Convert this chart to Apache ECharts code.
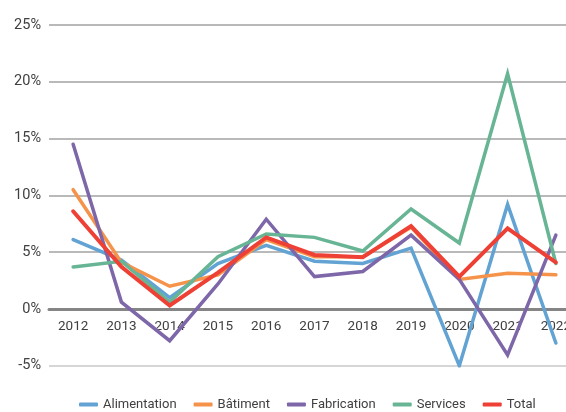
<!DOCTYPE html>
<html>
<head>
<meta charset="utf-8">
<script src="https://cdn.jsdelivr.net/npm/echarts@6/dist/echarts.min.js"></script>
<style>
html,body{margin:0;padding:0;background:#fff;}
#chart{width:566px;height:412px;}
</style>
</head>
<body>
<div id="chart"></div>
<script>
const years = ['2012','2013','2014','2015','2016','2017','2018','2019','2020','2021','2022'];
const alimentation = [6.1, 4.3, 1.0, 4.0, 5.6, 4.2, 4.0, 5.35, -5.0, 9.2, -3.0];
const batiment = [10.5, 4.1, 2.0, 3.0, 6.1, 4.6, 4.6, 7.2, 2.6, 3.15, 3.0];
const fabrication = [14.5, 0.6, -2.8, 2.2, 7.9, 2.85, 3.3, 6.5, 2.6, -4.05, 6.5];
const services = [3.7, 4.2, 0.6, 4.6, 6.6, 6.3, 5.1, 8.8, 5.8, 20.7, 4.0];
const total = [8.6, 3.7, 0.3, 3.2, 6.3, 4.75, 4.55, 7.3, 2.85, 7.1, 4.1];
const yTicks = [-5, 0, 5, 10, 15, 20, 25];

const seriesDefs = [
  {name:'Alimentation', data: alimentation, color:'#62a3d3', w:3.5},
  {name:'Bâtiment', data: batiment, color:'#f5934a', w:3.5},
  {name:'Fabrication', data: fabrication, color:'#7e67a8', w:3.5},
  {name:'Services', data: services, color:'#68b595', w:3.5},
  {name:'Total', data: total, color:'#ee4035', w:4}
];

const gridTop = 25, gridBottom = 46.3, H = 412;
const plotH = H - gridTop - gridBottom;
const yMin = yTicks[0], yMax = yTicks[yTicks.length-1];
const zeroOffset = -plotH * (0 - yMin) / (yMax - yMin);

const chart = echarts.init(document.getElementById('chart'), null, {renderer:'canvas'});
chart.setOption({
  animation:false,
  backgroundColor:'#ffffff',
  textStyle:{fontFamily:'Roboto'},
  grid:{left:49, right:-14, top:gridTop, bottom:gridBottom, containLabel:false, outerBoundsMode:'none'},
  legend:{
    left:74, top:393,
    itemWidth:19, itemHeight:4, itemGap:17,
    icon:'roundRect',
    textStyle:{color:'#404040', fontSize:13, fontFamily:'Roboto'},
    data: seriesDefs.map(s=>s.name)
  },
  xAxis:{
    type:'category',
    data: years,
    boundaryGap:true,
    position:'bottom',
    offset: zeroOffset,
    axisLine:{onZero:false, lineStyle:{color:'#858585', width:3}},
    axisTick:{show:false},
    axisLabel:{color:'#404040', fontSize:13.5, margin:11, fontFamily:'Roboto', hideOverlap:false},
    splitLine:{show:false}
  },
  yAxis:{
    type:'value',
    min: yMin, max: yMax, interval:5,
    axisLine:{show:false},
    axisTick:{show:false},
    axisLabel:{color:'#404040', fontSize:14.5, margin:8, fontFamily:'Roboto', formatter:v=>v+'%'},
    splitLine:{show:true, lineStyle:{color:['#c8c8c8','#858585','#a2a2a2','#a2a2a2','#a2a2a2','#a2a2a2','#a2a2a2'], width:1.5}}
  },
  series: seriesDefs.map(s=>({
    name:s.name, type:'line', data:s.data,
    symbol:'none', smooth:false,
    color:s.color,
    lineStyle:{color:s.color, width:s.w, cap:'round', join:'miter'},
    itemStyle:{color:s.color}
  }))
});
</script>
</body>
</html>
